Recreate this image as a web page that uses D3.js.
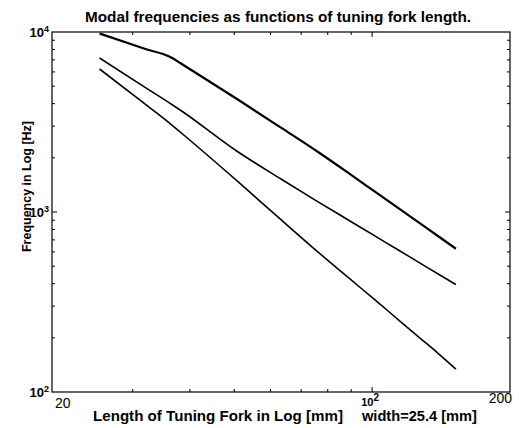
<!DOCTYPE html>
<html>
<head>
<meta charset="utf-8">
<script src="https://cdn.jsdelivr.net/npm/d3@7"></script>
<style>
  body { margin: 0; background: #fff; }
  text { font-family: "Liberation Sans", Arial, sans-serif; }
</style>
</head>
<body>
<div class="container"></div>
<script>
// fork lengths in mm (roughly 1 to 6 inches)
var lengthMm = [25.4, 31.75, 36.6, 38.1, 50.8, 63.5, 76.2, 88.9, 101.6, 114.3, 127, 139.7, 152.4];
// modal frequencies in Hz
var mode1 = [9810, 8096, 7171, 6725, 4228, 2921, 2154, 1643, 1293, 1047, 867, 731, 625];
var mode2 = [7170, 4973, 3945, 3687, 2168, 1516, 1139, 900, 734, 613, 522, 451, 395];
var mode3 = [6229, 4021, 3031, 2783, 1483, 898, 599, 430, 324, 251, 200, 163, 134];

var xTicks = [20, 100, 200];
var xTickLabels = ["20", "10", "200"];
var xMinor = [30, 40, 50, 60, 70, 80, 90];
var yTicks = [100, 1000, 10000];
var yTickExp = ["2", "3", "4"];

var W = 519, H = 428;
// plot box edges (note: "top" is taken by window.top)
var pLeft = 52, pRight = 510, pTop = 32, pBottom = 392;

//Makes the stage
function makeStage(w, h) {
    var stage = d3.select(".container")
      .append("svg")
      .attr("width", w)
      .attr("height", h)
      .style("display", "block")
      .style("background-color", "white");
    return stage;
}

var svg = makeStage(W, H);

var x = d3.scaleLog().domain([20, 200]).range([pLeft, pRight]);
var y = d3.scaleLog().domain([100, 10000]).range([pBottom, pTop]);

// minor y ticks 2..9 per decade
var yMinor = [];
[100, 1000].forEach(function (d) {
    for (var k = 2; k <= 9; k++) yMinor.push(d * k);
});

// ticks pointing inwards on all four sides
function tickLines(vals, len) {
    vals.forEach(function (v) {
        svg.append("line").attr("x1", x(v)).attr("x2", x(v))
           .attr("y1", pBottom).attr("y2", pBottom - len)
           .attr("stroke", "#000").attr("stroke-width", 1);
        svg.append("line").attr("x1", x(v)).attr("x2", x(v))
           .attr("y1", pTop).attr("y2", pTop + len)
           .attr("stroke", "#000").attr("stroke-width", 1);
    });
}
function tickLinesY(vals, len) {
    vals.forEach(function (v) {
        svg.append("line").attr("x1", pLeft).attr("x2", pLeft + len)
           .attr("y1", y(v)).attr("y2", y(v))
           .attr("stroke", "#000").attr("stroke-width", 1);
        svg.append("line").attr("x1", pRight).attr("x2", pRight - len)
           .attr("y1", y(v)).attr("y2", y(v))
           .attr("stroke", "#000").attr("stroke-width", 1);
    });
}
tickLines(xMinor, 3);
tickLines([100], 5);
tickLinesY(yMinor, 3);
tickLinesY([1000], 5);

// the box
svg.append("rect")
   .attr("x", pLeft).attr("y", pTop)
   .attr("width", pRight - pLeft).attr("height", pBottom - pTop)
   .attr("fill", "none").attr("stroke", "#000").attr("stroke-width", 1.2);

// curves
var line = d3.line()
   .x(function (d) { return x(d[0]); })
   .y(function (d) { return y(d[1]); })
   .curve(d3.curveMonotoneX);

[mode1, mode2, mode3].forEach(function (m, i) {
    svg.append("path")
       .datum(lengthMm.map(function (L, j) { return [L, m[j]]; }))
       .attr("d", line)
       .attr("fill", "none")
       .attr("stroke", "#000")
       .attr("stroke-width", i == 0 ? 2.2 : 1.6)
       .attr("stroke-linejoin", "round");
});

// x tick labels
xTicks.forEach(function (v, i) {
    if (i == 1) {
        var t = svg.append("text")
           .attr("x", x(v) - 2).attr("y", 406)
           .attr("text-anchor", "middle")
           .attr("font-size", 11).attr("font-weight", "bold");
        t.append("tspan").text(xTickLabels[i]);
        t.append("tspan").attr("dy", -5).attr("font-size", 10).text("2");
    } else {
        svg.append("text")
           .attr("x", i == 0 ? x(v) + 3 : x(v) + 2)
           .attr("y", i == 0 ? 408 : 403)
           .attr("text-anchor", i == 0 ? "start" : "end")
           .attr("font-size", 14)
           .text(xTickLabels[i]);
    }
});

// y tick labels
yTicks.forEach(function (v, i) {
    var t = svg.append("text")
       .attr("x", 49).attr("y", y(v) + 5)
       .attr("text-anchor", "end")
       .attr("font-size", 13).attr("font-weight", "bold");
    t.append("tspan").text("10");
    t.append("tspan").attr("dy", -5).attr("font-size", 9).text(yTickExp[i]);
});

// title and axis labels
function drawWord(text, x0, y0, size, len) {
    return svg.append("text").text(text)
       .attr("x", x0).attr("y", y0)
       .attr("font-size", size)
       .attr("font-weight", "bold")
       .attr("textLength", len)
       .attr("lengthAdjust", "spacingAndGlyphs");
}

drawWord("Modal frequencies as functions of tuning fork length.", 85, 22, 14, 386);
drawWord("Length of Tuning Fork in Log [mm]", 93, 421, 14, 250);
drawWord("width=25.4 [mm]", 362, 421, 14, 115);
drawWord("Frequency in Log [Hz]", 0, 0, 13, 131)
   .attr("transform", "translate(31,252) rotate(-90)");
</script>
</body>
</html>
